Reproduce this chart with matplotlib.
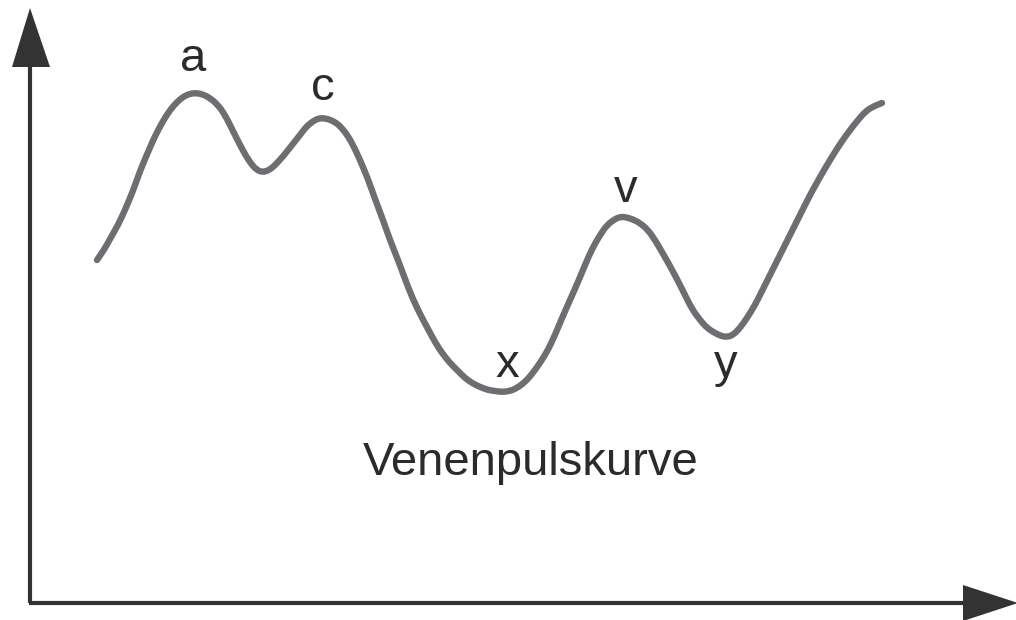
import matplotlib.pyplot as plt
from matplotlib.patches import Polygon, PathPatch
from matplotlib.path import Path

# venous pulse curve (pixel-like units, y downwards)
curve_x = [97, 104, 110, 118, 125, 133, 140, 148, 155, 163, 170, 177, 183, 189, 195,
           202, 210, 218, 225, 232, 240, 246, 252, 257, 262, 267, 272, 278, 285,
           292, 300, 306, 312, 317, 322, 328, 335, 341, 348, 354, 360, 368, 375,
           383, 390, 398, 405, 412, 420, 428, 435, 442, 450, 458, 465, 472, 480,
           488, 495, 502, 510, 517, 525, 532, 540, 548, 555, 562, 570, 578, 585,
           592, 600, 607, 615, 620, 625, 632, 640, 648, 655, 662, 670, 678, 685,
           692, 700, 707, 715, 721, 727, 733, 740, 747, 755, 762, 770, 780, 790,
           800, 810, 820, 830, 840, 850, 858, 865, 872, 882]
curve_y = [260, 250, 239, 225, 210, 191, 171, 152, 136, 121, 110, 102, 97, 94, 93,
           94, 98, 105, 115, 129, 145, 156, 165, 170, 172, 171, 168, 162, 154,
           145, 135, 127, 122, 119, 118, 119, 122, 127, 136, 147, 160, 179, 199,
           220, 240, 260, 279, 297, 314, 329, 342, 353, 363, 371, 378, 383, 387,
           390, 391, 392, 391, 388, 382, 374, 363, 350, 335, 318, 300, 282, 265,
           249, 235, 225, 219, 217, 217, 219, 223, 230, 240, 252, 266, 281, 295,
           309, 320, 328, 333, 336, 337, 335, 328, 318, 305, 291, 275, 255, 235,
           215, 195, 177, 160, 144, 130, 120, 112, 107, 103]

peak_labels = ["a", "c", "x", "v", "y"]
peak_label_x = [193, 323, 507, 626, 726]
peak_label_y = [71, 100, 377, 202, 377]

title = "Venenpulskurve"

plt.rcParams["font.family"] = ["Liberation Sans", "DejaVu Sans"]

fig = plt.figure(figsize=(10.16, 6.2), dpi=100)
ax = fig.add_axes([0, 0, 1, 1])
ax.set_xlim(0, 1016)
ax.set_ylim(620, 0)
ax.axis("off")

axis_col = "#333333"
# axes with arrow heads
ax.plot([30, 30], [603, 60], color=axis_col, lw=3, solid_capstyle="butt")
ax.plot([28.5, 970], [603, 603], color=axis_col, lw=3, solid_capstyle="butt")
ax.add_patch(Polygon([[30, 8], [12, 67], [50, 67]], closed=True,
                     color=axis_col, lw=0))
ax.add_patch(Polygon([[1018, 603], [963, 585], [963, 621]], closed=True,
                     color=axis_col, lw=0))

# smooth the drawn polyline with quadratic segments through the midpoints
pts = list(zip(curve_x, curve_y))
verts = [pts[0]]
codes = [Path.MOVETO]
for i in range(1, len(pts) - 1):
    mid = ((pts[i][0] + pts[i + 1][0]) / 2, (pts[i][1] + pts[i + 1][1]) / 2)
    verts += [pts[i], mid]
    codes += [Path.CURVE3, Path.CURVE3]
verts.append(pts[-1])
codes.append(Path.LINETO)
ax.add_patch(PathPatch(Path(verts, codes), facecolor="none",
                       edgecolor="#6d6e71", lw=4.6, capstyle="round",
                       joinstyle="round"))

for lab, lx, ly in zip(peak_labels, peak_label_x, peak_label_y):
    ax.text(lx, ly, lab, ha="center", va="baseline", fontsize=34,
            color="#2b2b2b")

ax.text(531, 475, title, ha="center", va="baseline", fontsize=34,
        color="#2b2b2b")

fig.savefig("out.png", dpi=100)
